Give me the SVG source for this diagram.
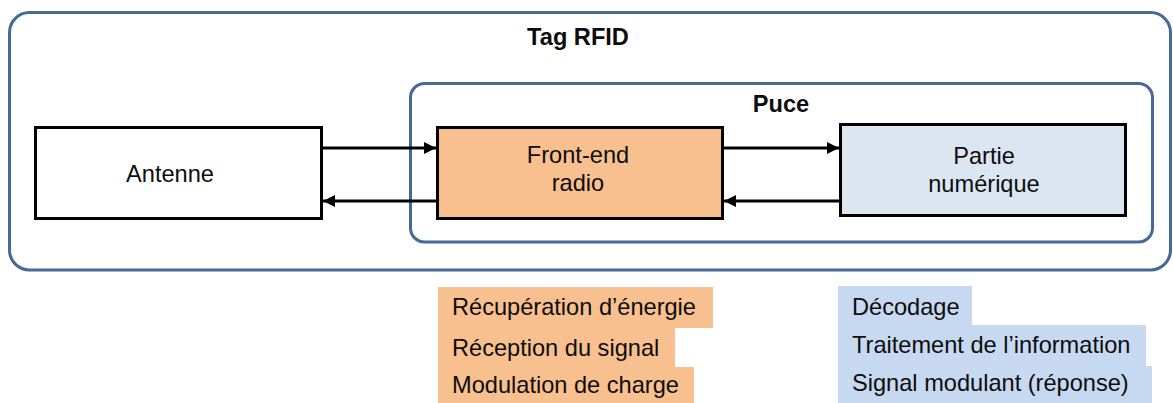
<svg xmlns="http://www.w3.org/2000/svg" width="1173" height="403" viewBox="0 0 1173 403">
<defs>
<style>
.grp{fill:#fff;stroke:#46699A;stroke-width:3}
.box{stroke:#000;stroke-width:3}
.t{font-family:"Liberation Sans",Arial,sans-serif;font-size:23.6px;fill:#0d0d0d}
.b{font-weight:bold;text-anchor:middle}
.c{text-anchor:middle}
.conn{stroke:#000;stroke-width:3;fill:none;marker-end:url(#ah)}
.or{fill:#F9C08F}
.bl{fill:#C6D9F1}
</style>
<marker id="ah" viewBox="0 0 10 10" refX="10" refY="5" markerWidth="4" markerHeight="4" markerUnits="strokeWidth" orient="auto">
<path d="M0,0 L10,5 L0,10 Z" fill="#000"/>
</marker>
</defs>
<rect width="1173" height="403" fill="#fff"/>
<g id="tag">
<rect class="grp" x="9.5" y="12.5" width="1161" height="257.5" rx="20"/>
<text class="t b" x="578" y="45" font-size="22">Tag RFID</text>
</g>
<g id="puce">
<rect class="grp" x="410.5" y="83.5" width="742" height="158.5" rx="14"/>
<text class="t b" x="781" y="112">Puce</text>
</g>
<g id="antenne">
<rect class="box" x="35.5" y="127.5" width="286" height="91" fill="#fff"/>
<text class="t c" x="170" y="182">Antenne</text>
</g>
<g id="frontend">
<rect class="box" x="437.5" y="127.5" width="285" height="91" fill="#F9C08F"/>
<text class="t c" x="578" y="163">Front-end</text>
<text class="t c" x="578" y="191">radio</text>
</g>
<g id="numerique">
<rect class="box" x="840.5" y="124.5" width="285" height="91" fill="#DCE6F2"/>
<text class="t c" x="984" y="164">Partie</text>
<text class="t c" x="984" y="192">numérique</text>
</g>
<g id="connectors">
<line class="conn" x1="322" y1="148" x2="436" y2="148"/>
<line class="conn" x1="437" y1="201" x2="323" y2="201"/>
<line class="conn" x1="723" y1="148" x2="839" y2="148"/>
<line class="conn" x1="840" y1="201" x2="724" y2="201"/>
</g>
<g id="frontend-list">
<rect class="or" x="438" y="287" width="275" height="41"/>
<rect class="or" x="438" y="328" width="237" height="39"/>
<rect class="or" x="438" y="367" width="256" height="36"/>
<text class="t" x="452" y="315">Récupération d’énergie</text>
<text class="t" x="452" y="356">Réception du signal</text>
<text class="t" x="452" y="393">Modulation de charge</text>
</g>
<g id="numerique-list">
<rect class="bl" x="838" y="286" width="134" height="39"/>
<rect class="bl" x="838" y="325" width="308" height="41"/>
<rect class="bl" x="838" y="366" width="314" height="37"/>
<text class="t" x="852" y="315">Décodage</text>
<text class="t" x="852" y="353">Traitement de l’information</text>
<text class="t" x="852" y="391">Signal modulant (réponse)</text>
</g>
</svg>
